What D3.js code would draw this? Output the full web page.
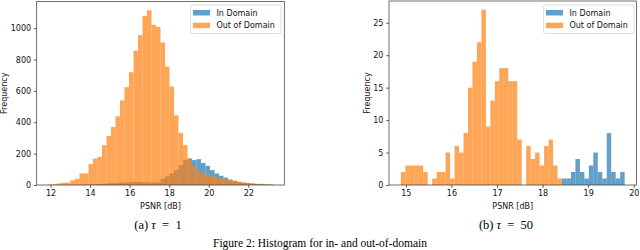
<!DOCTYPE html>
<html><head><meta charset="utf-8">
<script src="https://cdn.jsdelivr.net/npm/d3@7"></script>
<style>body{margin:0;background:#fff} svg{display:block}</style>
</head><body>
<svg id="c" width="640" height="250"></svg>
<script>
// ---- Panel (a): tau = 1 (50 shared bins) ----
const binStartA = 11.87, binWidthA = 0.2276;
const outDomainA = [3,5,10,15,15,30,40,74,74,133,169,180,254,313,370,438,539,624,719,856,955,1078,1114,1021,1008,909,755,628,444,332,254,169,120,90,75,65,55,50,45,38,32,28,22,16,12,8,6,8,3,2];
const inDomainA  = [0,0,0,0,0,0,0,1,2,3,5,6,8,10,12,14,15,16,18,20,20,18,17,16,18,40,55,74,95,127,160,169,159,165,140,122,95,74,59,47,35,25,18,14,12,10,7,5,4,3];
const xTicksA = [12,14,16,18,20,22];
const yTicksA = [0,200,400,600,800,1000];

// ---- Panel (b): tau = 50 (50 shared bins) ----
const binStartB = 14.89, binWidthB = 0.0982;
const outDomainB = [2,3,3,3,3,2,0,1,2,2,5,1,6,5,8,15,19,22,27,9,13,16,18,18,16,16,7,0,6,4,5,3,6,7,3,1,0,0,0,0,0,0,0,0,0,0,0,0,0,0];
const inDomainB  = [0,0,0,0,0,0,0,0,0,0,0,0,0,0,0,0,0,0,0,0,0,0,0,0,0,0,0,0,0,0,0,0,0,0,0,0,1,1,2,4,2,1,3,5,2,1,8,2,1,2];
const xTicksB = [15,16,17,18,19,20];
const yTicksB = [0,5,10,15,20,25];

const seriesNames = ["In Domain","Out of Domain"];
const seriesColors = ["#1f77b4","#ff7f0e"];
const xLabel = "PSNR [dB]", yLabel = "Frequency";
const captionLetters = ["(a)","(b)"], tauValues = ["1","50"];
const figCaption = "Figure 2: Histogram for in- and out-of-domain";

const svg = d3.select("#c");
const FONT = "DejaVu Sans, sans-serif";
const TL = 2.8, TP = 2.8;

function panel(cfg){
  const x = d3.scaleLinear().domain(cfg.xDom).range([cfg.left, cfg.right]);
  const y = d3.scaleLinear().domain(cfg.yDom).range([cfg.bottom, cfg.top]);
  const g = svg.append("g");
  const series = [cfg.inD, cfg.outD];
  series.forEach((vals, s) => {
    g.append("g").selectAll("rect").data(vals.map((v,i)=>({v,i})).filter(d=>d.v>0))
      .join("rect")
      .attr("x", d => x(cfg.start + d.i*cfg.width))
      .attr("width", d => x(cfg.start + (d.i+1)*cfg.width) - x(cfg.start + d.i*cfg.width))
      .attr("y", d => y(d.v))
      .attr("height", d => y(0) - y(d.v))
      .attr("fill", seriesColors[s]).attr("fill-opacity", 0.7);
  });
  const ax = g.append("g").attr("transform", `translate(0,${cfg.bottom})`)
    .call(d3.axisBottom(x).tickValues(cfg.xTicks).tickSize(TL).tickPadding(TP).tickFormat(d3.format("d")));
  const ay = g.append("g").attr("transform", `translate(${cfg.left},0)`)
    .call(d3.axisLeft(y).tickValues(cfg.yTicks).tickSize(TL).tickPadding(TP).tickFormat(d3.format("d")));
  [ax, ay].forEach(a => {
    a.select(".domain").remove();
    a.selectAll("line").attr("stroke", "#000").attr("stroke-width", 0.64);
    a.selectAll("text").attr("font-family", FONT).attr("font-size", 8).attr("fill", "#111");
  });
  g.append("rect").attr("x", cfg.left).attr("y", cfg.top)
    .attr("width", cfg.right - cfg.left).attr("height", cfg.bottom - cfg.top)
    .attr("fill", "none").attr("stroke", "#333").attr("stroke-width", 0.7);
  g.append("text").attr("x", (cfg.left+cfg.right)/2).attr("y", 208.5)
    .attr("text-anchor","middle").attr("font-family",FONT).attr("font-size",8).attr("fill","#111").text(xLabel);
  g.append("text").attr("transform", `translate(${cfg.ylabX},${(cfg.top+cfg.bottom)/2}) rotate(-90)`)
    .attr("text-anchor","middle").attr("font-family",FONT).attr("font-size",8).attr("fill","#111").text(yLabel);
  const L = cfg.legend;
  g.append("rect").attr("x", L.x).attr("y", L.y).attr("width", L.w).attr("height", 28.5)
    .attr("rx", 1.8).attr("fill", "#fff").attr("fill-opacity", 0.8)
    .attr("stroke", "#d0d0d0").attr("stroke-width", 0.7);
  seriesNames.forEach((n, s) => {
    g.append("rect").attr("x", L.x + 2.5).attr("y", L.y + 5 + s*12.7).attr("width", 17).attr("height", 5.5)
      .attr("fill", seriesColors[s]).attr("fill-opacity", 0.7);
    g.append("text").attr("x", L.x + 26).attr("y", L.y + 10.6 + s*12.7)
      .attr("font-family",FONT).attr("font-size",8).attr("fill","#111").text(n);
  });
  const t = svg.append("text").attr("x", cfg.capX).attr("y", 229)
    .attr("text-anchor","middle").attr("font-family","Liberation Serif, Times New Roman, serif")
    .attr("font-size", 12.5).attr("fill","#000");
  t.append("tspan").text(cfg.capLetter + " ");
  t.append("tspan").attr("font-style","italic").text("τ");
  t.append("tspan").text("\u2002=\u2002" + cfg.tau);
}

panel({start: binStartA, width: binWidthA, outD: outDomainA, inD: inDomainA,
  xDom: [11.30, 23.82], yDom: [0, 1170], left: 36.7, right: 284.3, top: 1.5, bottom: 185,
  xTicks: xTicksA, yTicks: yTicksA, ylabX: 6.8, legend: {x: 190.5, y: 5, w: 90.5},
  capX: 158, capLetter: captionLetters[0], tau: tauValues[0]});

panel({start: binStartB, width: binWidthB, outD: outDomainB, inD: inDomainB,
  xDom: [14.63, 20.06], yDom: [0, 28.35], left: 389, right: 636.5, top: 1, bottom: 185,
  xTicks: xTicksB, yTicks: yTicksB, ylabX: 369.8, legend: {x: 543.5, y: 5, w: 90.5},
  capX: 506, capLetter: captionLetters[1], tau: tauValues[1]});

svg.append("text").attr("x", 320).attr("y", 246.5).attr("text-anchor","middle")
  .attr("font-family","Liberation Serif, Times New Roman, serif").attr("font-size", 11.5)
  .attr("fill","#000").text(figCaption);
</script>
</body></html>
